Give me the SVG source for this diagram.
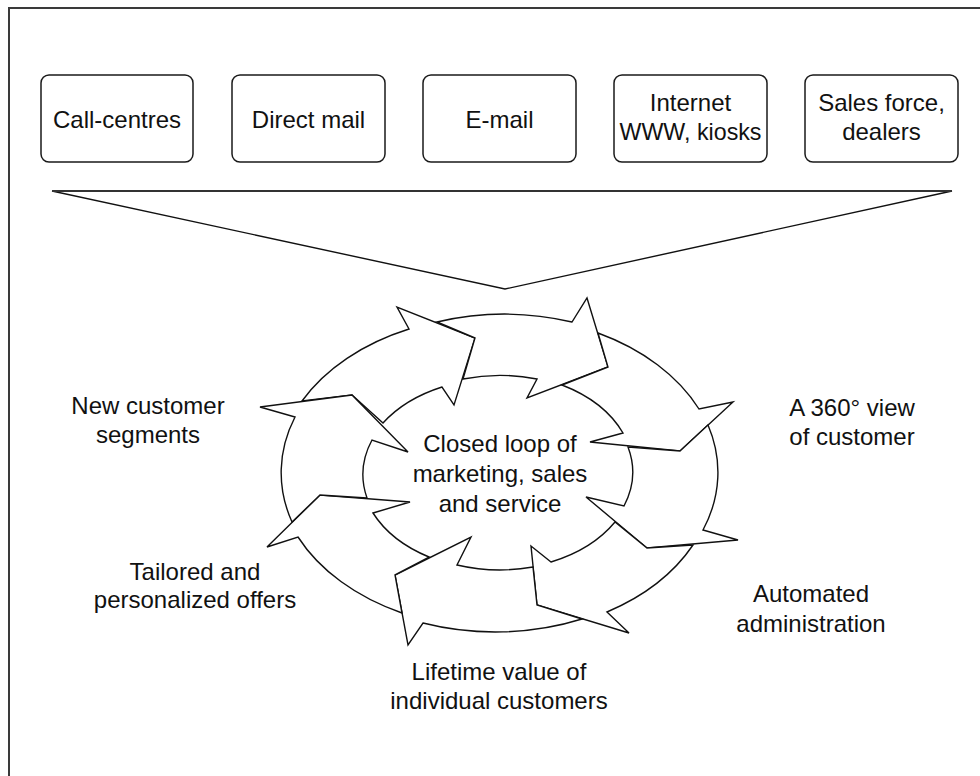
<svg xmlns="http://www.w3.org/2000/svg" width="980" height="776" viewBox="0 0 980 776">
<style>
  .frame{fill:none;stroke:#3a3a3a;stroke-width:2}
  .box{fill:#fff;stroke:#1a1a1a;stroke-width:1.5}
  .t{font-family:"Liberation Sans",Arial,sans-serif;font-size:24px;fill:#111;text-anchor:middle}
  .arr{fill:#fff;stroke:#111;stroke-width:1.4;stroke-linejoin:miter}
  .fun{fill:none;stroke:#111;stroke-width:1.4}
  .funtop{fill:none;stroke:#333;stroke-width:2.2}
</style>
<rect width="980" height="776" fill="#fff"/>
<path class="frame" d="M9,776 V8 H980"/>

<g id="channels">
  <g id="call-centres"><rect class="box" x="41" y="75" width="152" height="87" rx="8"/><text class="t" x="117" y="128">Call-centres</text></g>
  <g id="direct-mail"><rect class="box" x="232" y="75" width="153" height="87" rx="8"/><text class="t" x="308.5" y="128">Direct mail</text></g>
  <g id="e-mail"><rect class="box" x="423" y="75" width="153" height="87" rx="8"/><text class="t" x="499.5" y="128">E-mail</text></g>
  <g id="internet"><rect class="box" x="614" y="75" width="153" height="87" rx="8"/><text class="t" x="690.5" y="111">Internet</text><text class="t" x="690.5" y="140" textLength="142" lengthAdjust="spacingAndGlyphs">WWW, kiosks</text></g>
  <g id="sales-force"><rect class="box" x="805" y="75" width="153" height="87" rx="8"/><text class="t" x="881.5" y="111">Sales force,</text><text class="t" x="881.5" y="140">dealers</text></g>
</g>

<g id="connectors">
  <path class="fun" d="M52,191 L505,289 L952,191"/>
  <path class="funtop" d="M52,191 H952"/>
</g>

<g id="loop">
  <path id="arrow-a" class="arr" d="M302,401 A219,159 0 0 1 409,329 L397,307 L475,338 L454,405 L442,387 A137,97 0 0 0 383,423 L352,395 Z"/>
  <path id="arrow-b" class="arr" d="M437,322 A219,159 0 0 1 572,322 L587,298 L608,367 L527,398 L537,379 A137,97 0 0 0 463,379 L475,338 Z"/>
  <path id="arrow-c" class="arr" d="M598,333 A219,159 0 0 1 699,409 L733,402 L680,451 L590,442 L623,433 A137,97 0 0 0 562,385 L608,367 Z"/>
  <path id="arrow-d" class="arr" d="M708,425 A219,159 0 0 1 703,530 L738,540 L647,548 L586,497 L624,506 A137,97 0 0 0 628,447 L680,451 Z"/>
  <path id="arrow-e" class="arr" d="M693,545 A219,159 0 0 1 607,612 L629,633 L537,605 L531,546 L551,562 A137,97 0 0 0 615,522 L647,548 Z"/>
  <path id="arrow-f" class="arr" d="M582,619 A219,159 0 0 1 423,623 L408,645 L395,575 L471,537 L457,565 A137,97 0 0 0 533,567 L537,605 Z"/>
  <path id="arrow-g" class="arr" d="M402,613 A219,159 0 0 1 298,537 L267,547 L320,495 L410,502 L373,513 A137,97 0 0 0 429,557 L395,575 Z"/>
  <path id="arrow-h" class="arr" d="M292,522 A219,159 0 0 1 295,417 L260,407 L352,395 L408,452 L372,440 A137,97 0 0 0 367,498 L320,495 Z"/>
</g>

<g id="center-label"><text class="t" x="500" y="452">Closed loop of</text><text class="t" x="500" y="482">marketing, sales</text><text class="t" x="500" y="512">and service</text></g>
<g id="new-customer-segments"><text class="t" x="148" y="414">New customer</text><text class="t" x="148" y="443">segments</text></g>
<g id="view-360"><text class="t" x="852" y="416">A 360° view</text><text class="t" x="852" y="445">of customer</text></g>
<g id="tailored-offers"><text class="t" x="195" y="580">Tailored and</text><text class="t" x="195" y="608">personalized offers</text></g>
<g id="lifetime-value"><text class="t" x="499" y="680">Lifetime value of</text><text class="t" x="499" y="709">individual customers</text></g>
<g id="automated-administration"><text class="t" x="811" y="602">Automated</text><text class="t" x="811" y="632">administration</text></g>
</svg>
